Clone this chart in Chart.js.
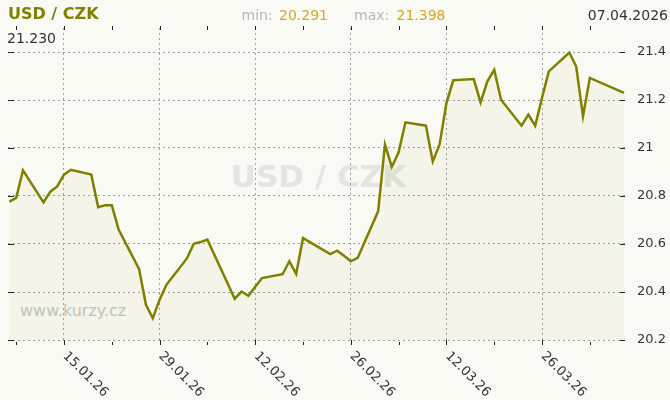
<!DOCTYPE html>
<html>
<head>
<meta charset="utf-8">
<title>USD / CZK</title>
<script src="https://cdn.jsdelivr.net/npm/chart.js@4.4.1/dist/chart.umd.min.js"></script>
<style>
  body { margin: 0; background: #fafaf5; font-family: "DejaVu Sans", sans-serif; }
  .wrap { position: relative; width: 670px; height: 400px; overflow: hidden; }
  .wrap div { position: absolute; white-space: nowrap; line-height: 20px; font-size: 14px; z-index: 2; }
  canvas { position: absolute; left: 0; top: 0; z-index: 1; }
  .pair { left: 8px; top: 4px; font-weight: bold; font-size: 16px !important; color: #808000; }
  .lbl { color: #b8b8b8; }
  .val { color: #daa520; }
  .dark { color: #333; }
  .wrap .wm { z-index: 0; }
  .big { left: 0; width: 637px; text-align: center; top: 156px; line-height: 40px !important;
         font-size: 31px !important; font-weight: bold; color: #e4e4e2; }
  .site { left: 20px; top: 301px; font-size: 16px !important; color: #c6c6c4; }
</style>
</head>
<body>
<div class="wrap">
  <div class="wm big">USD / CZK</div>
  <div class="wm site">www.kurzy.cz</div>
  <canvas id="rateChart" width="670" height="400"></canvas>
  <div class="pair">USD / CZK</div>
  <div class="lbl" style="left:241.5px;top:5px">min:</div>
  <div class="val" id="minVal" style="left:279px;top:5px"></div>
  <div class="lbl" style="left:354px;top:5px">max:</div>
  <div class="val" id="maxVal" style="left:396.5px;top:5px"></div>
  <div class="dark" id="lastDate" style="right:2px;top:5px"></div>
  <div class="dark" id="lastVal" style="left:7px;top:28px"></div>
</div>
<script>
// fixing dates (dd.mm.yy) and USD/CZK rates
const dates = [
  '07.01.26','08.01.26','09.01.26','12.01.26','13.01.26','14.01.26','15.01.26','16.01.26',
  '19.01.26','20.01.26','21.01.26','22.01.26','23.01.26','26.01.26','27.01.26','28.01.26',
  '29.01.26','30.01.26','02.02.26','03.02.26','04.02.26','05.02.26','06.02.26','09.02.26',
  '10.02.26','11.02.26','12.02.26','13.02.26','16.02.26','17.02.26','18.02.26','19.02.26',
  '20.02.26','23.02.26','24.02.26','25.02.26','26.02.26','27.02.26','02.03.26','03.03.26',
  '04.03.26','05.03.26','06.03.26','09.03.26','10.03.26','11.03.26','12.03.26','13.03.26',
  '16.03.26','17.03.26','18.03.26','19.03.26','20.03.26','23.03.26','24.03.26','25.03.26',
  '26.03.26','27.03.26','30.03.26','31.03.26','01.04.26','02.04.26','07.04.26'
];
const rates = [
  20.777, 20.792, 20.907, 20.773, 20.818, 20.840, 20.889, 20.909,
  20.889, 20.753, 20.761, 20.761, 20.660, 20.495, 20.347, 20.291,
  20.368, 20.430, 20.540, 20.601, 20.608, 20.618, 20.556, 20.372,
  20.402, 20.384, 20.422, 20.458, 20.474, 20.528, 20.476, 20.625,
  20.608, 20.558, 20.572, 20.551, 20.528, 20.542, 20.736, 21.014,
  20.921, 20.982, 21.107, 21.093, 20.944, 21.015, 21.187, 21.282,
  21.287, 21.190, 21.278, 21.326, 21.201, 21.093, 21.139, 21.093,
  21.210, 21.319, 21.398, 21.340, 21.132, 21.292, 21.230
];

// weekly ticks on the time axis, every second one labelled
const weekTicks = ['08.01.26','15.01.26','22.01.26','29.01.26','05.02.26','12.02.26','19.02.26',
                   '26.02.26','05.03.26','12.03.26','19.03.26','26.03.26','02.04.26'];
const tickLabels = ['15.01.26','29.01.26','12.02.26','26.02.26','12.03.26','26.03.26'];
const yTicks = [20.2, 20.4, 20.6, 20.8, 21.0, 21.2, 21.4];

// days since the first fixing
function dayOf(s) {
  const [d, m, y] = s.split('.').map(Number);
  return (Date.UTC(2000 + y, m - 1, d) - Date.UTC(2026, 0, 7)) / 864e5;
}

document.getElementById('minVal').textContent = Math.min(...rates).toFixed(3);
document.getElementById('maxVal').textContent = Math.max(...rates).toFixed(3);
document.getElementById('lastVal').textContent = rates[rates.length - 1].toFixed(3);
const ld = dates[dates.length - 1].split('.');
document.getElementById('lastDate').textContent = ld[0] + '.' + ld[1] + '.20' + ld[2];

// short solid tick marks on the frame + rotated date labels
const frameTicks = {
  id: 'frameTicks',
  afterDraw(chart) {
    const { ctx, chartArea: a, scales: { x, y } } = chart;
    ctx.save();
    ctx.strokeStyle = '#222';
    ctx.lineWidth = 1;
    ctx.beginPath();
    x.ticks.forEach(t => {
      const px = Math.round(x.getPixelForValue(t.value)) + 0.5;
      ctx.moveTo(px, a.top - 2);
      ctx.lineTo(px, a.top + 2);
      ctx.moveTo(px, a.bottom + (t.major ? 0 : 2));
      ctx.lineTo(px, a.bottom + 5);
    });
    y.ticks.forEach(t => {
      const py = Math.round(y.getPixelForValue(t.value)) + 0.5;
      ctx.moveTo(a.left, py);
      ctx.lineTo(a.left + 6, py);
      ctx.moveTo(a.right - 5, py);
      ctx.lineTo(a.right, py);
    });
    ctx.stroke();

    ctx.fillStyle = '#333';
    ctx.font = '13px "DejaVu Sans"';
    ctx.textAlign = 'left';
    ctx.textBaseline = 'middle';
    x.ticks.forEach((t, i) => {
      if (!t.major) return;
      ctx.save();
      ctx.translate(x.getPixelForValue(t.value) + 1, a.bottom + 14);
      ctx.rotate(Math.PI / 4);
      ctx.fillText(weekTicks[i], 0, 0);
      ctx.restore();
    });
    ctx.restore();
  }
};

Chart.defaults.font.family = '"DejaVu Sans", sans-serif';

const ctx = document.getElementById('rateChart').getContext('2d');
new Chart(ctx, {
  type: 'line',
  data: {
    datasets: [{
      label: 'USD / CZK',
      data: dates.map((d, i) => ({ x: dayOf(d), y: rates[i] })),
      borderColor: '#808000',
      backgroundColor: 'rgba(128, 128, 0, 0.05)',
      borderWidth: 2.5,
      pointRadius: 0,
      tension: 0,
      fill: 'start'
    }]
  },
  options: {
    responsive: false,
    animation: false,
    events: [],
    layout: { padding: { top: 28, left: 8, right: 0, bottom: 0 } },
    plugins: { legend: { display: false }, tooltip: { enabled: false } },
    scales: {
      x: {
        type: 'linear',
        min: -0.2,
        max: 90.15,
        afterBuildTicks: scale => {
          scale.ticks = weekTicks.map(d => ({ value: dayOf(d), major: tickLabels.includes(d) }));
        },
        afterFit: scale => { scale.height = 60; },
        ticks: { display: false, callback: (v, i) => tickLabels.includes(weekTicks[i]) ? weekTicks[i] : '' },
        grid: {
          drawTicks: false,
          lineWidth: 1,
          color: c => (c.tick && c.tick.major) ? '#a0a0a0' : 'rgba(0,0,0,0)'
        },
        border: { display: false, dash: [2, 3] }
      },
      y: {
        position: 'right',
        min: 20.2,
        max: 21.5,
        afterBuildTicks: scale => { scale.ticks = yTicks.map(v => ({ value: v })); },
        afterFit: scale => { scale.width = 45; },
        ticks: {
          padding: 12,
          color: '#333',
          font: { size: 13 },
          callback: v => String(+Number(v).toFixed(1))
        },
        grid: { drawTicks: false, color: '#a0a0a0', lineWidth: 1 },
        border: { display: false, dash: [2, 3] }
      }
    }
  },
  plugins: [frameTicks]
});
</script>
</body>
</html>
